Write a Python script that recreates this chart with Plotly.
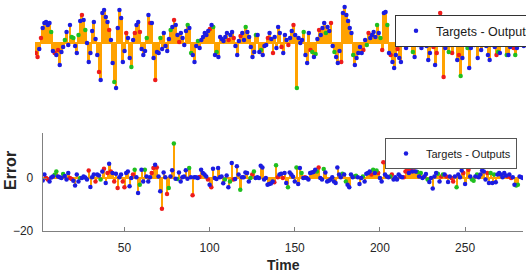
import plotly.graph_objects as go

# ---------------- data ----------------
# bottom panel: error vs time
time_bottom = list(range(2, 285))
err_bottom = [
    -0.9, 1.3, 0, -0.6, -1.3, 0.2, 0.6, 1.2, 2.5, 0.6,
    0.3, 0, 1.5, 0.8, -0.6, 1.9, 0, -0.4, -1, -2.8,
    1.3, -1.3, 0, 0, 0.6, 0.2, -0.6, 2.8, -3.4, 0.3,
    1.3, -1.3, 1.3, 1.0, -0.6, 2.5, 3.5, -1.9, 1.9, 5.4,
    2.5, 1.9, -1.3, 1.6, -3.8, 0.3, 1.3, -1.3, -3.5, 1.9,
    2.5, -3.1, 0, 1.3, 3.1, 0.3, -5.7, -2.5, 3.1, -1.3,
    3.1, 0.6, -1.3, 0.3, 1.9, 3.8, 5.0, 4.0, 0.6, -5,
    -11.6, 2.1, 0.3, -6, -3.8, 0.6, 2.9, 13, -0.3, -0.4,
    2.1, -1.3, 0.3, 0.6, 2.9, -0.3, 3.8, 0.3, -6.5, 0.3,
    0.3, 0, 0.4, 3.1, 1.9, 1.3, 0.6, -0.6, -2.5, -3.5,
    3.5, 0, -0.4, 3.8, 0.3, 0.6, -2, -0.6, 1, -3.5,
    -1.3, 5.7, -0.6, -0.4, 4.4, 1.3, -4.4, 0.3, 0.3, 2.1,
    1.9, -1.3, 0, 1.3, 2.5, 0, 0.3, 0, 4.6, 4.0,
    -0.6, 0, -2.5, -2.3, -2.1, -1.3, -1.6, 4.8, 0.3, 1.3,
    1.6, 0, 1.9, -1.9, -3.5, 2.1, 1.3, 0.5, -1.3, 4,
    -2.3, 3.8, 1.9, 0, 0.3, 0, -0.6, 1.9, 2.1, 2.3,
    3.1, 2.5, 4, 0, -0.6, 3.4, 2.1, -1.3, -1.0, -0.6,
    0.3, -1.3, -1.9, 4.0, 1.3, 0.3, 1.6, 1.3, -1.3, -2.5,
    -3.5, 1.3, 0.3, 0.6, 0.9, 0.3, -2.3, 0, 0.6, -1.3,
    1.6, 1.9, 2.5, 1.3, 3.1, 1.9, 2.8, 1.9, 0, -1.3,
    6.0, 1.3, 0.6, 0.3, 0.6, 1.3, -0.6, 0.3, -0.6, 1.3,
    0.6, 0.3, 0.3, 2.5, 3.1, 1.9, 3.1, 2.5, 4.0, 2.5,
    2.3, 0.6, 1.9, 0, 0.6, 1.5, -0.6, -1.5, 0, -4.0,
    0.6, 1.9, 1.6, -1.3, 0.6, 1.3, 1.3, 0.6, -1.5, 0.6,
    0, -1.3, 0.6, -3.5, 1.3, 0.3, 2.8, 1.9, -2.3, 4.4,
    3.1, 0.6, -0.6, -1.0, 0.6, 1.3, 0.3, 1.3, 2.8, 2.5,
    -0.6, 1.9, -1.9, 1.9, -1.9, 1.3, -1.6, 1.3, 1.9, 1.3,
    0.3, 1.9, 1.0, 0.6, 1.3, 0, 0.3, -2.5, -2.8, -2.5,
    0.6, 0.3, 0,
]
# b = training, g = validation, r = test
set_bottom = (
    "bbrrbbbggb" "bbgbbbrrbb" "bbgbbbbrbb" "brbbgbrbrb" "rbrbrbbrrb"
    "bbbrgbbgbb" "gbbbrrbrbb" "rbbrgbbgbg" "bbbbbbgbrb" "bbrbbbbrbr"
    "bbbbbbbgbb" "gbrbbbgbbb" "bbgrgbbbbb" "bbbbbbrgrb" "brbbgbbbbg"
    "bbgbrbbbbb" "bgrbbgbbbb" "bbbbbbgbgb" "bbbggbbbgb" "bbbrgbgrbb"
    "rbbbgrbbbb" "bbrrrbrbrb" "gbgbbbgbbb" "bbgbrgbrbb" "rrbgbbbrbb"
    "rbggbgbbbb" "brbgbgbbbb" "bbbrbrbbgg" "bbb"
)

# top panel (cropped upper error plot, no visible axes)
time_top = list(range(1, 289))
err_top = [
    -10, -14, -6, 5, 15, 20, 21, 18, 20, 11,
    -8, -10, -12, -7, -22, -9, -4, 3, 11, -2,
    18, 6, 5, -3, -10, 8, 22, 28, 23, 13,
    0, -19, -10, 12, 21, 4, -12, -29, -37, 30,
    33, 26, 21, 13, 3, -20, -39, -45, 15, 33,
    25, -19, -8, 10, 5, -15, -24, 3, 10, 18,
    21, 11, -6, -12, -8, 5, 28, 20, 20, -15,
    -37, -9, -10, 5, -6, 10, -3, -8, 4, 13,
    16, 23, 18, 8, 1, 10, 5, -2, 12, 18,
    15, -10, -12, -19, -3, 2, -5, 3, 6, 10,
    8, 12, 14, 18, 16, -12, -9, -14, 6, 4,
    2, 6, 10, 3, 8, 11, 5, -3, -12, 2,
    7, 10, 3, 16, 11, 6, -4, -14, -9, 8,
    8, -9, -7, -12, -3, -2, 5, 10, 4, -10,
    6, -5, 16, 10, -4, -10, 8, 3, -2, 5,
    12, 18, 8, -45, 5, 0, 3, 11, -12, -20,
    10, -7, -9, -14, -11, 4, 13, 8, 15, 20,
    10, 16, 12, 20, -3, -9, -14, -20, -8, -19,
    30, 36, 28, 22, 15, 10, -12, -22, -15, -10,
    -4, -10, -7, 3, -2, 10, 5, 8, 11, 6,
    18, 10, 5, -7, 30, 31, 18, -10, -12, -19,
    -25, -12, -6, -15, -19, 3, 2, -5, 4, 1,
    2, -9, -14, 3, -2, 1, -5, 2, 4, -3,
    -17, -10, 1, -4, -22, -10, 2, 30, 3, -34,
    -5, 3, -9, -2, -10, 2, 5, -17, -12, -33,
    -15, 3, 4, -5, -25, -5, 2, -2, -1, -15,
    3, -7, 2, 4, -3, -12, -17, 2, 3, -4,
    -12, -9, -10, -1, 3, 2, -12, -12, -4, 3,
    -5, -12, -5, 3, 2, -1, -3, 4,
]
set_top = (
    "rrbrbbbbbg" "brbrbbbgbb" "bggbbgbrbg" "bbbbbbbrbb" "bbbrbbgbbb"
    "bbbrbbgbrb" "brbbbgbrbb" "rbbgbbbbbg" "brbbrbbbbg" "bgbbbgbbbb"
    "bbrbgbgbbb" "bbbrbbrbbb" "rbbgbbbbbg" "bbgbbbrbbr" "bbbbrbbbrb"
    "brbgbbbgbb" "brgbgbrbbb" "gbbrbgbbbr" "bbbbbbgbbb" "bbrbgrbbbb"
    "gbgrbbgbrb" "bbrbbbbbbb" "bgbbbbbrbb" "bbgrbrbrbr" "bbgrrbbbrg"
    "bbbgbbbbrb" "bbbbbbbbbb" "rgbbbbgbbb" "rgbbbbbb"
)

legend_label = "Targets - Outputs"
y_ticks = [-20, 0]
x_ticks = [50, 100, 150, 200, 250]

# ---------------- style ----------------
W, H = 526, 273
ORANGE = "#ffa200"
COLORS = {"b": "#1c1ce0", "g": "#1fbf1f", "r": "#ee1c1c"}
FONT = "Liberation Sans, Arial, sans-serif"

fig = go.Figure()


def add_panel(t, e, s, xa, ya, legend_id, bar_w):
    fig.add_trace(go.Bar(x=t, y=e, width=bar_w, marker=dict(color=ORANGE, line=dict(width=0)),
                         xaxis=xa, yaxis=ya, showlegend=False, hoverinfo="skip"))
    for key in ["r", "g", "b"]:
        xs = [ti for ti, si in zip(t, s) if si == key]
        ys = [ei for ei, si in zip(e, s) if si == key]
        fig.add_trace(go.Scatter(x=xs, y=ys, mode="markers",
                                 marker=dict(color=COLORS[key], size=4.5),
                                 xaxis=xa, yaxis=ya,
                                 name=legend_label, showlegend=(key == "b"),
                                 legend=legend_id))


add_panel(time_top, err_top, set_top, "x2", "y2", "legend2", 1.7)
add_panel(time_bottom, err_bottom, set_bottom, "x", "y", "legend", 1.3)


def px_x(p):
    return p / W


def px_y(p):
    return 1 - p / H


fig.update_layout(
    width=W, height=H,
    margin=dict(l=0, r=0, t=0, b=0, autoexpand=False),
    paper_bgcolor="white", plot_bgcolor="white",
    bargap=0,
    font=dict(family=FONT, size=12, color="#262626"),
    xaxis=dict(domain=[px_x(42.7), px_x(523)], range=[time_bottom[0], time_bottom[-1]],
               tickvals=x_ticks, ticks="inside", ticklen=4, tickcolor="#808080",
               showline=True, linecolor="#808080", linewidth=1, mirror=False,
               showgrid=False, zeroline=False, ticklabelstandoff=6,
               tickfont=dict(size=12, color="#262626"), anchor="y"),
    yaxis=dict(domain=[px_y(231), px_y(133)], range=[-20, 17],
               tickvals=y_ticks, ticks="inside", ticklen=4, tickcolor="#808080",
               showline=True, linecolor="#808080", linewidth=1, mirror=False,
               showgrid=False, zeroline=True, zerolinecolor=ORANGE, zerolinewidth=2,
               ticklabelstandoff=6, tickfont=dict(size=12, color="#262626"), anchor="x"),
    xaxis2=dict(domain=[px_x(35), 1], range=[0.5, 288.3], showline=False, showgrid=False,
                zeroline=False, showticklabels=False, ticks="", anchor="y2"),
    yaxis2=dict(domain=[px_y(100), 1], range=[-57, 43], showline=False, showgrid=False,
                zeroline=True, zerolinecolor=ORANGE, zerolinewidth=2,
                showticklabels=False, ticks="", anchor="x2"),
    legend=dict(x=px_x(385), y=px_y(138), xanchor="left", yanchor="top",
                bgcolor="white", bordercolor="#555555", borderwidth=1,
                font=dict(size=11, color="#1a1a1a", family=FONT)),
    legend2=dict(x=px_x(395), y=px_y(15), xanchor="left", yanchor="top",
                 bgcolor="white", bordercolor="#333333", borderwidth=1,
                 font=dict(size=12.5, color="#1a1a1a", family=FONT)),
    annotations=[
        dict(text="<b>Error</b>", x=px_x(10), y=px_y(171), xref="paper", yref="paper",
             xanchor="center", yanchor="middle",
             showarrow=False, textangle=-90, font=dict(size=16, color="#262626", family=FONT)),
        dict(text="<b>Time</b>", x=px_x(283), y=px_y(265), xref="paper", yref="paper",
             xanchor="center", yanchor="middle",
             showarrow=False, font=dict(size=14, color="#262626", family=FONT)),
    ],
)

fig.write_html("out.html", config={"displayModeBar": False},
               post_script="document.body.style.margin='0px';")
